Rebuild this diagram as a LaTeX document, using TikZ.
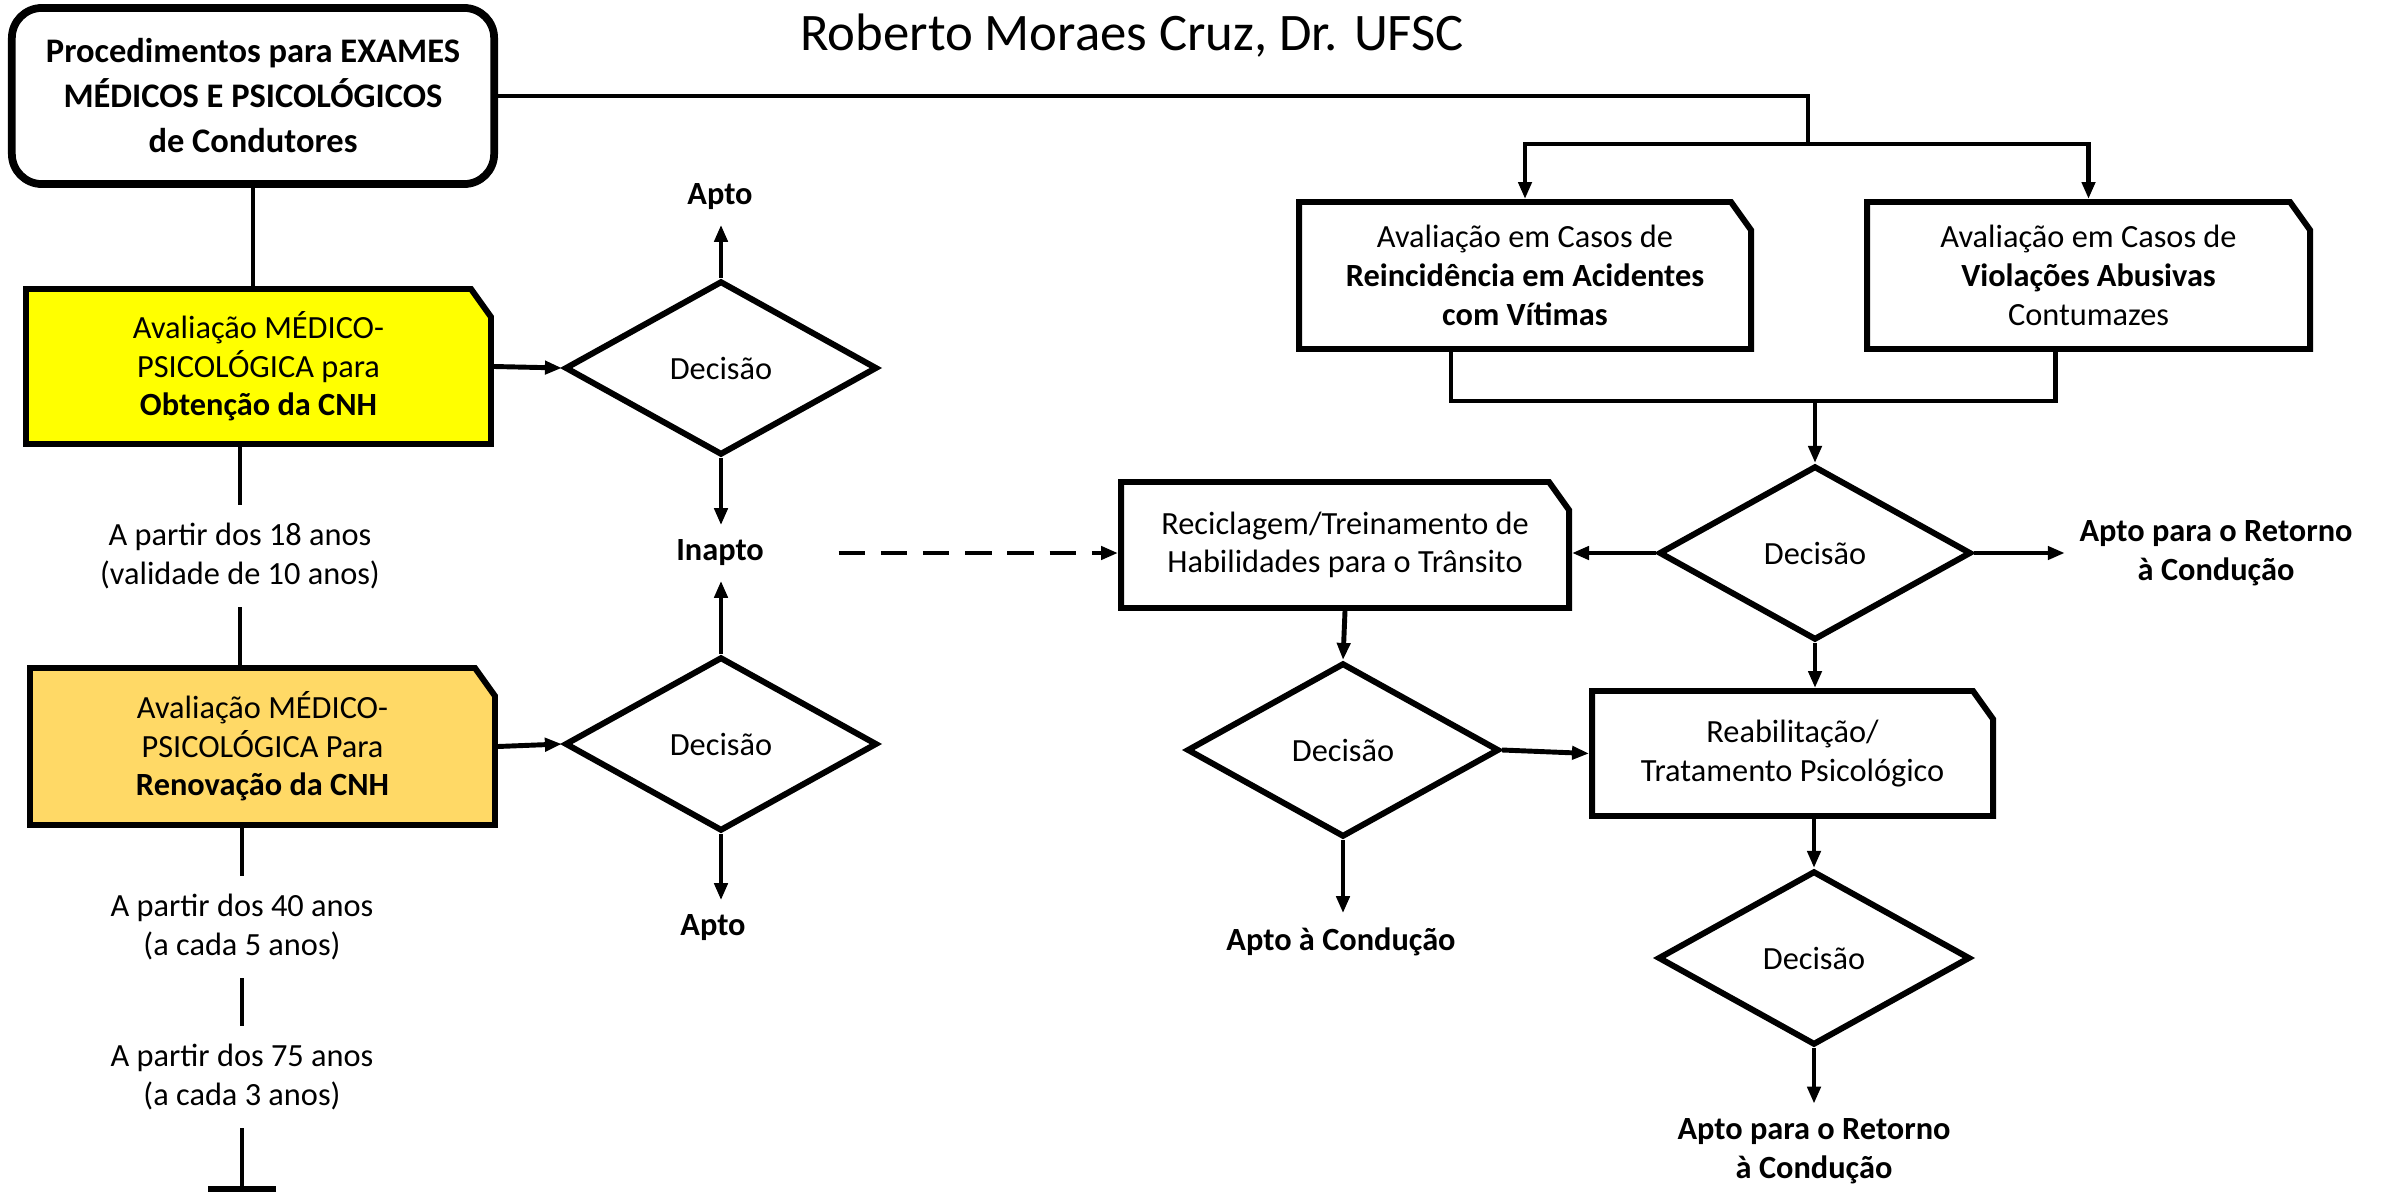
\documentclass[tikz,border=0pt]{standalone}
\usepackage{fontspec}
\setmainfont{Carlito}
\usetikzlibrary{arrows.meta,shapes.geometric}

\definecolor{obtencao}{HTML}{FFFF00}
\definecolor{renovacao}{HTML}{FFD966}

\begin{document}
\begin{tikzpicture}[x=0.01cm, y=-0.01cm,
  every node/.style={font=\fontsize{9.2}{11}\selectfont, align=center},
  boxline/.style={line width=1.7pt, line join=miter},
  conn/.style={line width=1.4pt},
  arr/.style={conn, -{Triangle[length=0.17cm, width=0.13cm]}},
  dasharr/.style={arr, dash pattern=on 7.5pt off 4.5pt},
  mainbox/.style={draw, line width=2.2pt, rounded corners=0.3cm, minimum width=4.82cm,
    minimum height=1.76cm, inner sep=0pt, font=\fontsize{9.8}{12.8}\selectfont\bfseries},
  decision/.style={diamond, draw, line width=1.7pt, minimum width=3.12cm,
    minimum height=1.74cm, inner sep=0pt},
  outcome/.style={font=\fontsize{9.2}{11}\selectfont\bfseries, inner sep=4pt},
  ages/.style={inner xsep=0pt, inner ysep=5pt}
]

\newcommand{\snipx}{20}
\newcommand{\snipy}{28}
% box with cut corner: name, x1, y1, x2, y2, fill, text
\newcommand{\snipbox}[7]{%
  \draw[boxline, fill=#6] (#2,#3) -- ({#4-\snipx},#3) -- (#4,{#3+\snipy})
    -- (#4,#5) -- (#2,#5) -- cycle;
  \node[inner sep=0pt, outer sep=0.85pt, minimum width={(#4-#2)*0.01cm},
    minimum height={(#5-#3)*0.01cm}] (#1) at ({(#2+#4)/2},{(#3+#5)/2}) {#7};
}

\useasboundingbox (0,0) rectangle (2382,1194);

% title
\node[font=\fontsize{15}{18}\selectfont] (title) at (1132,36) {Roberto Moraes Cruz, Dr. UFSC};

% left column
\node[mainbox] (proc) at (253,96)
  {Procedimentos para EXAMES\\MÉDICOS E PSICOLÓGICOS\\de Condutores};
\snipbox{obt}{26}{289}{491}{444}{obtencao}
  {Avaliação MÉDICO-\\PSICOLÓGICA para\\\textbf{Obtenção da CNH}}
\snipbox{ren}{30}{668}{495}{825}{renovacao}
  {Avaliação MÉDICO-\\PSICOLÓGICA Para\\\textbf{Renovação da CNH}}

\node[ages] (age1) at (240,556) {A partir dos 18 anos\\(validade de 10 anos)};
\node[ages] (age2) at (242,927) {A partir dos 40 anos\\(a cada 5 anos)};
\node[ages] (age3) at (242,1077) {A partir dos 75 anos\\(a cada 3 anos)};
\coordinate (fim) at (242,1192);

\draw[conn] (proc.south) -- (proc.south |- obt.north);
\draw[conn] (age1.north |- obt.south) -- (age1.north);
\draw[conn] (age1.south) -- (age1.south |- ren.north);
\draw[conn] (age2.north |- ren.south) -- (age2.north);
\draw[conn] (age2.south) -- (age3.north);
\draw[conn, -{Bar[width=0.68cm, line width=1.7pt]}] (age3.south) -- (fim);

% decisions on the left
\node[decision] (dec1) at (721,368) {Decisão};
\node[decision] (dec2) at (721,744) {Decisão};
\node[outcome] (apto1) at (720,197) {Apto};
\node[outcome] (inapto) at (720,553) {Inapto};
\node[outcome] (apto2) at (713,928) {Apto};

\draw[arr] (obt.east) -- (dec1.west);
\draw[arr] (ren.east) -- (dec2.west);
\draw[arr] (dec1.north) -- (dec1.north |- apto1.south);
\draw[arr] (dec1.south) -- (dec1.south |- inapto.north);
\draw[arr] (dec2.north) -- (dec2.north |- inapto.south);
\draw[arr] (dec2.south) -- (dec2.south |- apto2.north);

% right side
\snipbox{reinc}{1299}{202}{1751}{349}{white}
  {Avaliação em Casos de\\\textbf{Reincidência em Acidentes}\\\textbf{com Vítimas}}
\snipbox{viol}{1867}{202}{2310}{349}{white}
  {Avaliação em Casos de\\\textbf{Violações Abusivas}\\Contumazes}
\snipbox{recic}{1121}{482}{1569}{608}{white}
  {Reciclagem/Treinamento de\\Habilidades para o Trânsito}
\snipbox{reab}{1592}{691}{1993}{816}{white}
  {Reabilitação/\\Tratamento Psicológico}

\node[decision] (dec3) at (1815,553) {Decisão};
\node[decision] (dec4) at (1343,750) {Decisão};
\node[decision] (dec5) at (1814,958) {Decisão};
\node[outcome] (retorno1) at (2216,553) {Apto para o Retorno\\à Condução};
\node[outcome] (conducao) at (1341,942) {Apto à Condução};
\node[outcome] (retorno2) at (1814,1151) {Apto para o Retorno\\à Condução};

\coordinate (split) at (1808,144);
\coordinate (join) at (1815,401);

\draw[conn] (proc.east) -| (split);
\draw[arr] (split) -| (reinc.north);
\draw[arr] (split) -| (viol.north);
\draw[conn] ([xshift=-0.74cm]reinc.south) |- (join) -| ([xshift=-0.33cm]viol.south);
\draw[arr] (join) -- (dec3.north);

\draw[arr] (dec3.west) -- (dec3.west -| recic.east);
\draw[arr] (dec3.east) -- (retorno1.west);
\draw[arr] (dec3.south) -- (dec3.south |- reab.north);
\draw[arr] (recic.south) -- (dec4.north);
\draw[arr] (dec4.south) -- (dec4.south |- conducao.north);
\draw[arr] (dec4.east) -- (reab.west);
\draw[arr] (reab.south -| dec5.north) -- (dec5.north);
\draw[arr] (dec5.south) -- (retorno2.north);

\draw[dasharr, shorten <=0.6cm] (inapto.east) -- (inapto.east -| recic.west);

\end{tikzpicture}
\end{document}
